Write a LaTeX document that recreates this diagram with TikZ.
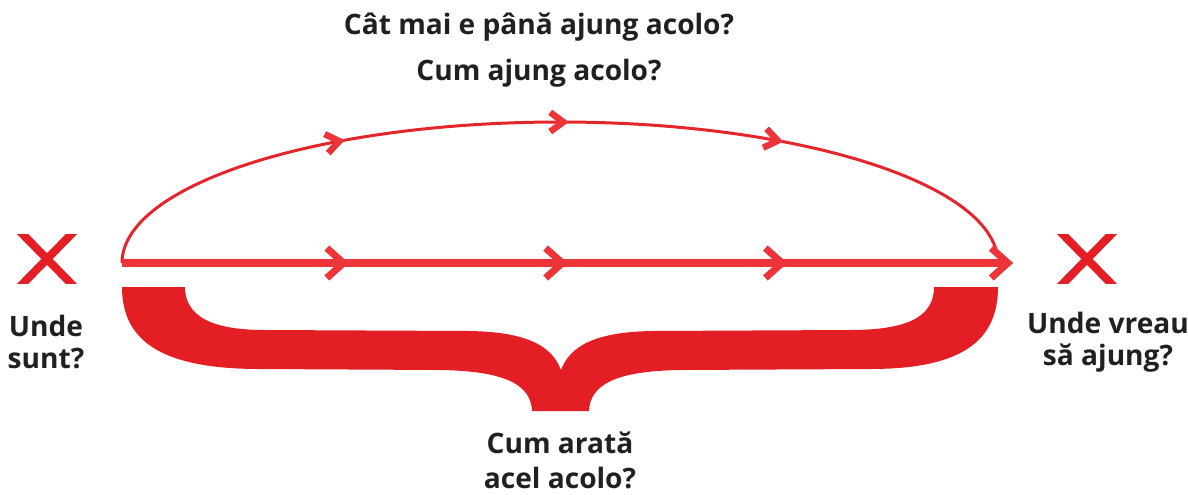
\documentclass[tikz,border=0pt]{standalone}
\usepackage{fontspec}
\setmainfont{Open Sans}
\usetikzlibrary{decorations.markings}

\definecolor{bracered}{RGB}{227,30,36}
\definecolor{arcred}{RGB}{228,38,44}
\definecolor{chevred}{RGB}{236,52,57}
\definecolor{textdark}{RGB}{35,31,32}

% open chevron pointing along the path: arm length, half span, stroke
\newcommand{\routechev}[3]{%
  \draw[chevred,line width=#3,line cap=butt,line join=miter]
    (-#1,#2) -- (0pt,0pt) -- (-#1,-#2);}

\tikzset{
  endmark/.style={minimum width=1.24cm,minimum height=0.96cm,inner sep=0pt},
  question/.style={font=\bfseries\fontsize{16}{18}\selectfont,
    text=textdark,align=center,inner sep=0pt},
}

\begin{document}
\begin{tikzpicture}[x=0.02cm,y=-0.02cm]
  \useasboundingbox (0,0) rectangle (1189,494);

  % where we are / where we want to be
  \node[endmark] (here) at (47,259) {};
  \node[endmark] (there) at (1087,259) {};
  \foreach \spot in {here,there} {
    \begin{scope}
      \clip (\spot.north west) rectangle (\spot.south east);
      \draw[bracered,line width=4.6pt,shorten <=-6pt,shorten >=-6pt]
        ([xshift=0.15cm]\spot.north west) -- ([xshift=-0.15cm]\spot.south east);
      \draw[bracered,line width=4.6pt,shorten <=-6pt,shorten >=-6pt]
        ([xshift=0.15cm]\spot.south west) -- ([xshift=-0.15cm]\spot.north east);
    \end{scope}
  }
  \node[question] (herelbl) at (46,342) {Unde\\sunt?};
  \node[question] (therelbl) at (1108,342) {Unde vreau\\să ajung?};

  \coordinate (start) at (122,263);
  \coordinate (goal) at (1008,263);

  % the long way round
  \draw[arcred,line width=1.7pt,postaction={decorate},
    decoration={markings,
      mark=at position 0.275 with {\routechev{7.5pt}{5.5pt}{3.7pt}},
      mark=at position 0.51 with {\routechev{7.5pt}{5.5pt}{3.7pt}},
      mark=at position 0.735 with {\routechev{7.5pt}{5.5pt}{3.7pt}}}]
    (start) arc[start angle=180,end angle=355,x radius=438,y radius=141];
  \node[question,font=\bfseries\fontsize{16}{26}\selectfont] (howlbl) at (539,50)
    {Cât mai e până ajung acolo?\\Cum ajung acolo?};

  % straight route
  \draw[chevred,line width=4pt,shorten >=2pt] (start) -- (goal);
  \path[decorate,decoration={markings,
      mark=at position 0.25 with {\routechev{9.5pt}{8.5pt}{4pt}},
      mark=at position 0.497 with {\routechev{9.5pt}{8.5pt}{4pt}},
      mark=at position 0.745 with {\routechev{9.5pt}{8.5pt}{4pt}},
      mark=at position 0.9999 with {\routechev{9.5pt}{8.5pt}{4pt}}}]
    (start) -- (goal);

  % brace under the route
  \fill[bracered] (122,287) -- (185,287)
    .. controls (185,318) and (215,330) .. (265,330)
    -- (470,331)
    .. controls (527,332) and (552,346) .. (561,370)
    .. controls (570,346) and (595,332) .. (652,331)
    -- (850,330)
    .. controls (905,330) and (934,318) .. (934,287)
    -- (998,287)
    .. controls (998,342) and (960,369) .. (870,369)
    -- (680,370)
    .. controls (615,371) and (590,385) .. (589,411)
    -- (532,411)
    .. controls (531,385) and (506,371) .. (440,370)
    -- (260,369)
    .. controls (160,369) and (122,340) .. (122,287) -- cycle;
  \node[question,font=\bfseries\fontsize{16}{20}\selectfont] (whatlbl) at (560,460)
    {Cum arată\\acel acolo?};
\end{tikzpicture}
\end{document}
